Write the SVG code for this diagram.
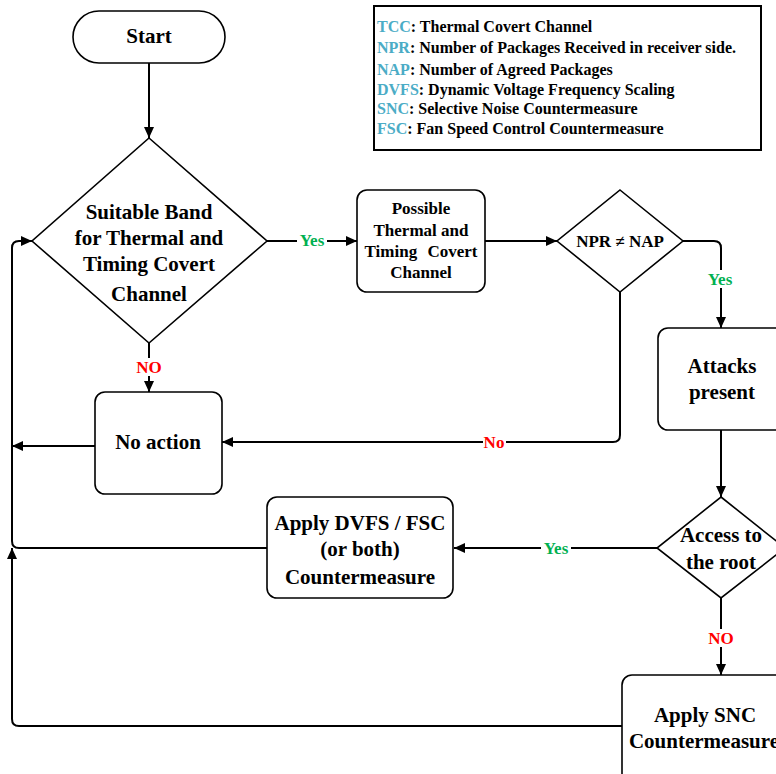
<svg xmlns="http://www.w3.org/2000/svg" width="776" height="774" viewBox="0 0 776 774">
<style>
.n{fill:#fff;stroke:#000;stroke-width:1.6}
.t{font-family:"Liberation Serif","Times New Roman",serif;font-weight:bold;text-anchor:middle;fill:#000}
.t21{font-size:21px}
.t17{font-size:17px}
.c{fill:none;stroke:#000;stroke-width:2}
.lbl{font-family:"Liberation Serif","Times New Roman",serif;font-weight:bold;font-size:17px;text-anchor:middle}
.g{fill:#00B050}
.r{fill:#FF0000}
.lg{font-family:"Liberation Serif","Times New Roman",serif;font-weight:bold;font-size:16px;fill:#000}
.ab{fill:#4BACC6}
</style>
<defs>
<marker id="ah" markerUnits="userSpaceOnUse" markerWidth="12" markerHeight="10" refX="11" refY="5" orient="auto">
<path d="M0,0 L11,5 L0,10 z" fill="#000"/>
</marker>
</defs>
<rect width="776" height="774" fill="#fff"/>

<g id="legend">
<rect x="374" y="6" width="387" height="144" fill="#fff" stroke="#000" stroke-width="2"/>
<text class="lg" x="377" y="32"><tspan class="ab">TCC</tspan>: Thermal Covert Channel</text>
<text class="lg" x="377" y="53"><tspan class="ab">NPR</tspan>: Number of Packages Received in receiver side.</text>
<text class="lg" x="377" y="75"><tspan class="ab">NAP</tspan>: Number of Agreed Packages</text>
<text class="lg" x="377" y="95"><tspan class="ab">DVFS</tspan>: Dynamic Voltage Frequency Scaling</text>
<text class="lg" x="377" y="114"><tspan class="ab">SNC</tspan>: Selective Noise Countermeasure</text>
<text class="lg" x="377" y="134"><tspan class="ab">FSC</tspan>: Fan Speed Control Countermeasure</text>
</g>

<g id="connectors">
<path class="c" d="M149,63 V138" marker-end="url(#ah)"/>
<path class="c" d="M267,241 H357" marker-end="url(#ah)"/>
<path class="c" d="M485,241 H557" marker-end="url(#ah)"/>
<path class="c" d="M683,241 H714 Q721,241 721,248 V328" marker-end="url(#ah)"/>
<path class="c" d="M620,292 V435 Q620,442 613,442 H222" marker-end="url(#ah)"/>
<path class="c" d="M149,343 V392" marker-end="url(#ah)"/>
<path class="c" d="M95,446 H12" marker-end="url(#ah)"/>
<path class="c" d="M721,430 V497" marker-end="url(#ah)"/>
<path class="c" d="M657,548 H454" marker-end="url(#ah)"/>
<path class="c" d="M721,598 V675" marker-end="url(#ah)"/>
<path class="c" d="M267,548 H19 Q12,548 12,541 V248 Q12,241 19,241 H32" marker-end="url(#ah)"/>
<path class="c" d="M622,726 H19 Q12,726 12,719 V548" marker-end="url(#ah)"/>
<rect x="297" y="232" width="30" height="18" fill="#fff"/>
<text class="lbl g" x="312" y="246">Yes</text>
<rect x="705" y="270" width="30" height="18" fill="#fff"/>
<text class="lbl g" x="720" y="285">Yes</text>
<rect x="483" y="433" width="23" height="18" fill="#fff"/>
<text class="lbl r" x="494" y="448">No</text>
<rect x="134" y="358" width="30" height="18" fill="#fff"/>
<text class="lbl r" x="149" y="373">NO</text>
<rect x="541" y="539" width="30" height="18" fill="#fff"/>
<text class="lbl g" x="556" y="554">Yes</text>
<rect x="706" y="629" width="30" height="18" fill="#fff"/>
<text class="lbl r" x="721" y="644">NO</text>
</g>

<g id="start">
<rect class="n" x="73" y="11" width="152" height="52" rx="26"/>
<text class="t t21" x="149" y="43">Start</text>
</g>

<g id="suitable-band">
<polygon class="n" points="149,138 267,241 149,343 32,241"/>
<text class="t t21" x="149" y="219">Suitable Band</text>
<text class="t t21" x="149" y="245">for Thermal and</text>
<text class="t t21" x="149" y="271">Timing Covert</text>
<text class="t t21" x="149" y="301">Channel</text>
</g>

<g id="possible">
<rect class="n" x="357" y="190" width="128" height="102" rx="10"/>
<text class="t t17" x="421" y="214">Possible</text>
<text class="t t17" x="421" y="236">Thermal and</text>
<text class="t t17" x="421" y="257" word-spacing="6">Timing Covert</text>
<text class="t t17" x="421" y="278">Channel</text>
</g>

<g id="npr-nap">
<polygon class="n" points="620,190 683,241 620,292 557,241"/>
<text class="t t17" x="620" y="247">NPR ≠ NAP</text>
</g>

<g id="attacks">
<rect class="n" x="658" y="328" width="130" height="102" rx="10"/>
<text class="t t21" x="722" y="373">Attacks</text>
<text class="t t21" x="722" y="399">present</text>
</g>

<g id="no-action">
<rect class="n" x="95" y="392" width="127" height="102" rx="10"/>
<text class="t t21" x="158" y="449">No action</text>
</g>

<g id="dvfs">
<rect class="n" x="267" y="497" width="186" height="101" rx="10"/>
<text class="t t21" x="360" y="530">Apply DVFS / FSC</text>
<text class="t t21" x="360" y="556">(or both)</text>
<text class="t t21" x="360" y="584">Countermeasure</text>
</g>

<g id="access-root">
<polygon class="n" points="721,497 785,548 721,598 657,548"/>
<text class="t t21" x="721" y="542">Access to</text>
<text class="t t21" x="721" y="569">the root</text>
</g>

<g id="snc">
<rect class="n" x="622" y="675" width="166" height="110" rx="10"/>
<text class="t t21" x="705" y="722">Apply SNC</text>
<text class="t t21" x="704" y="748">Countermeasure</text>
</g>
</svg>
